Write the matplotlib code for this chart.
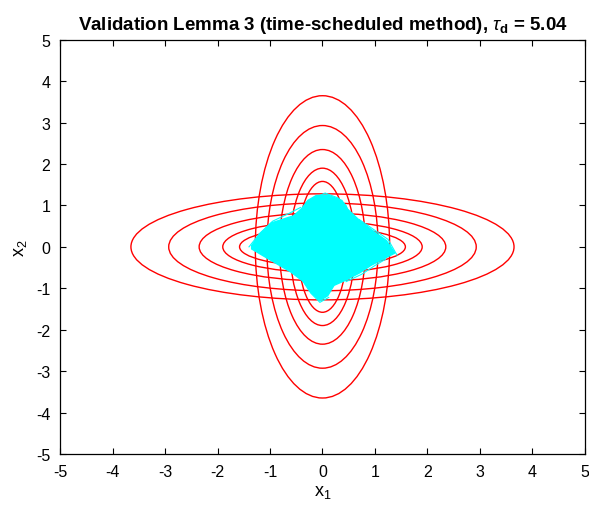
import matplotlib
matplotlib.use("Agg")
import matplotlib.pyplot as plt
from matplotlib.patches import Ellipse
import numpy as np

plt.rcParams['font.family'] = ['Liberation Sans', 'DejaVu Sans']
plt.rcParams['mathtext.fontset'] = 'custom'
plt.rcParams['mathtext.rm'] = 'Liberation Sans'
plt.rcParams['mathtext.it'] = 'Liberation Sans:italic'
plt.rcParams['mathtext.bf'] = 'Liberation Sans:bold'
plt.rcParams['axes.unicode_minus'] = False

# level sets (semi-axes)
major_axes = [3.65, 2.93, 2.35, 1.90, 1.58]
minor_axes = [1.28, 1.06, 0.82, 0.62, 0.47]

# outline of the cyan trajectory cloud
blob_x1 = [-1.35, -1.18, -0.97, -0.55, -0.40, -0.28, -0.12, 0.10, 0.37, 0.47, 0.72,
           1.00, 1.22, 1.38, 1.15, 0.92, 0.72, 0.45, 0.22, 0.10, -0.05, -0.22,
           -0.35, -0.60, -0.95, -1.15, -1.35]
blob_x2 = [0.03, 0.33, 0.58, 0.75, 0.92, 1.12, 1.24, 1.25, 1.12, 0.92, 0.62,
           0.35, 0.15, -0.15, -0.30, -0.45, -0.62, -0.80, -0.93, -1.18, -1.30, -1.10,
           -0.85, -0.61, -0.35, -0.20, -0.05]

# a few loose trajectories at the edge of the cloud
wisp1_x1 = [-1.40, -1.20, -0.95, -0.65, -0.42]
wisp1_x2 = [0.00, 0.32, 0.62, 0.80, 0.95]
wisp2_x1 = [-0.20, 0.05, 0.30, 0.45, 0.52]
wisp2_x2 = [1.15, 1.30, 1.18, 1.00, 0.78]
wisp3_x1 = [0.70, 1.02, 1.25, 1.42]
wisp3_x2 = [0.66, 0.38, 0.18, -0.20]
wisp4_x1 = [-0.38, -0.22, -0.05, 0.12]
wisp4_x2 = [-0.82, -1.12, -1.34, -1.22]
wisp5_x1 = [0.45, 0.75, 1.00, 1.20]
wisp5_x2 = [-0.84, -0.66, -0.45, -0.30]

fig = plt.figure(figsize=(5.89, 5.10), dpi=100)
ax = fig.add_axes([0.102, 0.108, 0.891, 0.812])

for a, b in zip(major_axes, minor_axes):
    ax.add_patch(Ellipse((0, 0), 2 * a, 2 * b, fill=False, edgecolor='red', linewidth=1.0, zorder=2))
    ax.add_patch(Ellipse((0, 0), 2 * b, 2 * a, fill=False, edgecolor='red', linewidth=1.0, zorder=2))

ax.fill(blob_x1, blob_x2, color='cyan', linewidth=1.0, edgecolor='cyan', zorder=3)
for wx, wy in [(wisp1_x1, wisp1_x2), (wisp2_x1, wisp2_x2), (wisp3_x1, wisp3_x2),
               (wisp4_x1, wisp4_x2), (wisp5_x1, wisp5_x2)]:
    ax.plot(wx, wy, color='cyan', linewidth=0.8, zorder=3)

ax.set_xlim(-5, 5)
ax.set_ylim(-5, 5)
ax.set_xticks(np.arange(-5, 6, 1))
ax.set_yticks(np.arange(-5, 6, 1))
ax.tick_params(direction='in', top=True, right=True, labelsize=11.5, length=4, width=0.8, pad=7)
for s in ax.spines.values():
    s.set_linewidth(0.9)

ax.set_xlabel('x$_1$', fontsize=13, labelpad=3)
ax.set_ylabel('x$_2$', fontsize=13, labelpad=5)
ax.set_title(r'Validation Lemma 3 (time-scheduled method), $\tau_{\mathbf{d}}$ = 5.04',
             fontsize=13.5, fontweight='bold', pad=8)

fig.savefig('out.png', dpi=100)
